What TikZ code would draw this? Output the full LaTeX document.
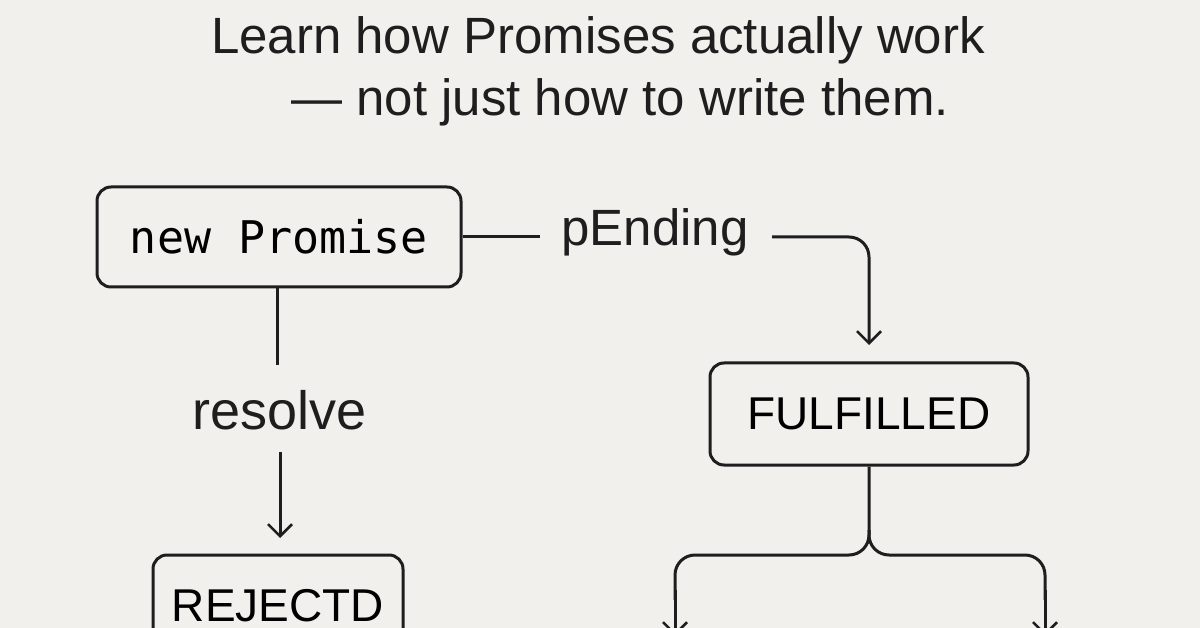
\documentclass[tikz,border=0pt]{standalone}
\usepackage{fontspec}
\setmainfont{Liberation Sans}
\setmonofont{DejaVu Sans Mono}
\usetikzlibrary{arrows.meta}
\definecolor{paper}{HTML}{F1F0EC}
\definecolor{ink}{HTML}{1E1E1E}
\begin{document}
\begin{tikzpicture}[x=1pt,y=-1pt,line width=3pt,draw=ink,
  box/.style={draw=ink,rounded corners=14pt,line width=3pt},
  tip/.style={-{Straight Barb[length=12pt,width=24pt,line width=2.5pt]}}]
    \fill[paper] (0,0) rectangle (1200,628);
    \clip (0,0) rectangle (1200,628);
    \useasboundingbox (0,0) rectangle (1200,628);

    % title
    \node[text=ink,font=\fontsize{51}{60}\selectfont] (t1) at (598,40) {Learn how Promises actually work};
    \node[text=ink,font=\fontsize{51}{60}\selectfont] (t2) at (620,102) {— not just how to write them.};

    % boxes
    \node[box,minimum width=364pt,minimum height=100pt,font=\ttfamily\fontsize{45}{50}\selectfont] (np) at (279,237) {new Promise};
    \node[box,minimum width=318pt,minimum height=102pt,font=\fontsize{46}{52}\selectfont] (ful) at (869,414) {FULFILLED};
    \node[box,minimum width=250pt,minimum height=120pt,font=\fontsize{46}{52}\selectfont,text depth=20pt] (rej) at (278,615) {REJECTD};

    % labels
    \node[text=ink,font=\fontsize{51}{58}\selectfont] (pend) at (655,232) {pEnding};
    \node[text=ink,font=\fontsize{54}{60}\selectfont] (res) at (280,410) {resolve};

    % connectors
    \draw (np.east) -- (540,237);
    \draw[tip,rounded corners=20pt] (772,237) -- (869,237) -- (869,345);
    \draw (np.south -| 277,0) -- (277,365);
    \draw[tip] (280,452) -- (280,538);
    \draw[rounded corners=20pt] (ful.south) -- (869,555) -- (675,555) -- (675,600);
    \draw[rounded corners=20pt] (869,530) -- (869,555) -- (1045,555) -- (1045,600);
    \draw[tip] (675,590) -- (675,636);
    \draw[tip] (1045,590) -- (1045,636);
\end{tikzpicture}
\end{document}
